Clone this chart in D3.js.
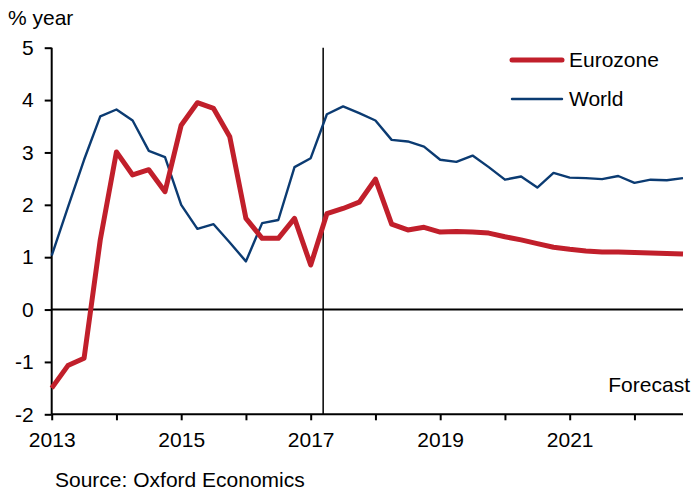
<!DOCTYPE html>
<html>
<head>
<meta charset="utf-8">
<script src="https://cdn.jsdelivr.net/npm/d3@7"></script>
<style>
  body { margin: 0; background: #fff; }
  svg { font-family: "Liberation Sans", Arial, sans-serif; }
  .axis path, .axis line { stroke: #000; stroke-width: 2px; }
  .axis text { font-size: 21px; fill: #000; font-family: "Liberation Sans", Arial, sans-serif; }
</style>
</head>
<body>
<script>
// Quarterly data, 2013Q1 - 2022Q4
var years = [2013, 2014, 2015, 2016, 2017, 2018, 2019, 2020, 2021, 2022];
var quarters = [];
years.forEach(function(y) { [1, 2, 3, 4].forEach(function(q) { quarters.push(y + "Q" + q); }); });

var eurozone = [-1.50, -1.07, -0.93, 1.33, 3.01, 2.57, 2.67, 2.25, 3.52, 3.95,
                3.84, 3.30, 1.74, 1.36, 1.36, 1.74, 0.85, 1.83, 1.93, 2.05,
                2.49, 1.63, 1.52, 1.57, 1.48, 1.49, 1.48, 1.46, 1.39, 1.33,
                1.26, 1.19, 1.15, 1.12, 1.10, 1.10, 1.09, 1.08, 1.07, 1.06];
var world = [1.03, 1.95, 2.86, 3.69, 3.82, 3.61, 3.03, 2.91, 2.00, 1.54,
             1.63, 1.28, 0.92, 1.65, 1.71, 2.72, 2.89, 3.73, 3.88, 3.75,
             3.61, 3.24, 3.21, 3.11, 2.86, 2.82, 2.94, 2.72, 2.48, 2.54,
             2.33, 2.61, 2.52, 2.51, 2.49, 2.55, 2.42, 2.48, 2.47, 2.51];
var yTicks = [-2, -1, 0, 1, 2, 3, 4, 5];
var labelYears = [2013, 2015, 2017, 2019, 2021];
var forecastQuarter = "2017Q1", forecastOffset = 0.77;

var width = 693, height = 494;
var margin = {top: 47.7, right: 10, bottom: 80, left: 51.7};

var svg = d3.select("body").append("svg")
    .attr("width", width)
    .attr("height", height);

// Scales
var x = d3.scalePoint().domain(quarters).range([margin.left, 683]);
var y = d3.scaleLinear().domain([-2, 5]).range([414.3, margin.top]);

// Y axis (plain hyphen for negatives, as in the original)
svg.append("g")
    .attr("class", "axis")
    .attr("transform", "translate(" + margin.left + ",0)")
    .call(d3.axisLeft(y).tickValues(yTicks).tickFormat(function(d) { return String(d); })
      .tickSize(7).tickSizeOuter(0).tickPadding(11))
    .call(function(g) { g.select(".domain").attr("d", "M0," + y(5) + "V" + y(-2)); });

// X axis
svg.append("g")
    .attr("class", "axis")
    .attr("transform", "translate(0," + y(-2) + ")")
    .call(d3.axisBottom(x)
      .tickValues(years.map(function(yr) { return yr + "Q1"; }))
      .tickFormat(function(d) { var yr = +d.slice(0, 4); return labelYears.indexOf(yr) >= 0 ? yr : ""; })
      .tickSize(6).tickSizeOuter(0).tickPadding(12))
    .call(function(g) { g.select(".domain").attr("d", "M" + margin.left + ",0H683"); });

// Zero line
svg.append("line")
    .attr("x1", margin.left).attr("x2", 683)
    .attr("y1", y(0)).attr("y2", y(0))
    .attr("stroke", "#000").attr("stroke-width", 2);

// Forecast divider
var fx = x(forecastQuarter) + forecastOffset * x.step();
svg.append("line")
    .attr("x1", fx).attr("x2", fx)
    .attr("y1", y(5)).attr("y2", y(-2))
    .attr("stroke", "#000").attr("stroke-width", 1.5);

var line = d3.line()
    .x(function(d, i) { return x(quarters[i]); })
    .y(function(d) { return y(d); });

svg.append("path")
    .datum(world)
    .attr("fill", "none")
    .attr("stroke", "#0b3b72")
    .attr("stroke-width", 2.4)
    .attr("stroke-linejoin", "round")
    .attr("d", line);

svg.append("path")
    .datum(eurozone)
    .attr("fill", "none")
    .attr("stroke", "#c11f2b")
    .attr("stroke-width", 5)
    .attr("stroke-linejoin", "round")
    .attr("d", line);

// Legend
var legend = [
  {name: "Eurozone", color: "#c11f2b", w: 5, y: 60},
  {name: "World", color: "#0b3b72", w: 2.4, y: 99}
];
legend.forEach(function(l) {
  svg.append("line")
      .attr("x1", 512).attr("x2", 562)
      .attr("y1", l.y).attr("y2", l.y)
      .attr("stroke", l.color).attr("stroke-width", l.w)
      .attr("stroke-linecap", "round");
  svg.append("text")
      .attr("x", 569).attr("y", l.y + 7)
      .attr("font-size", 21)
      .text(l.name);
});

// Texts
svg.append("text").attr("x", 8).attr("y", 25).attr("font-size", 21).text("% year");
svg.append("text").attr("x", 690).attr("y", 392).attr("font-size", 21)
    .attr("text-anchor", "end").text("Forecast");
svg.append("text").attr("x", 55).attr("y", 487).attr("font-size", 21)
    .text("Source: Oxford Economics");
</script>
</body>
</html>
